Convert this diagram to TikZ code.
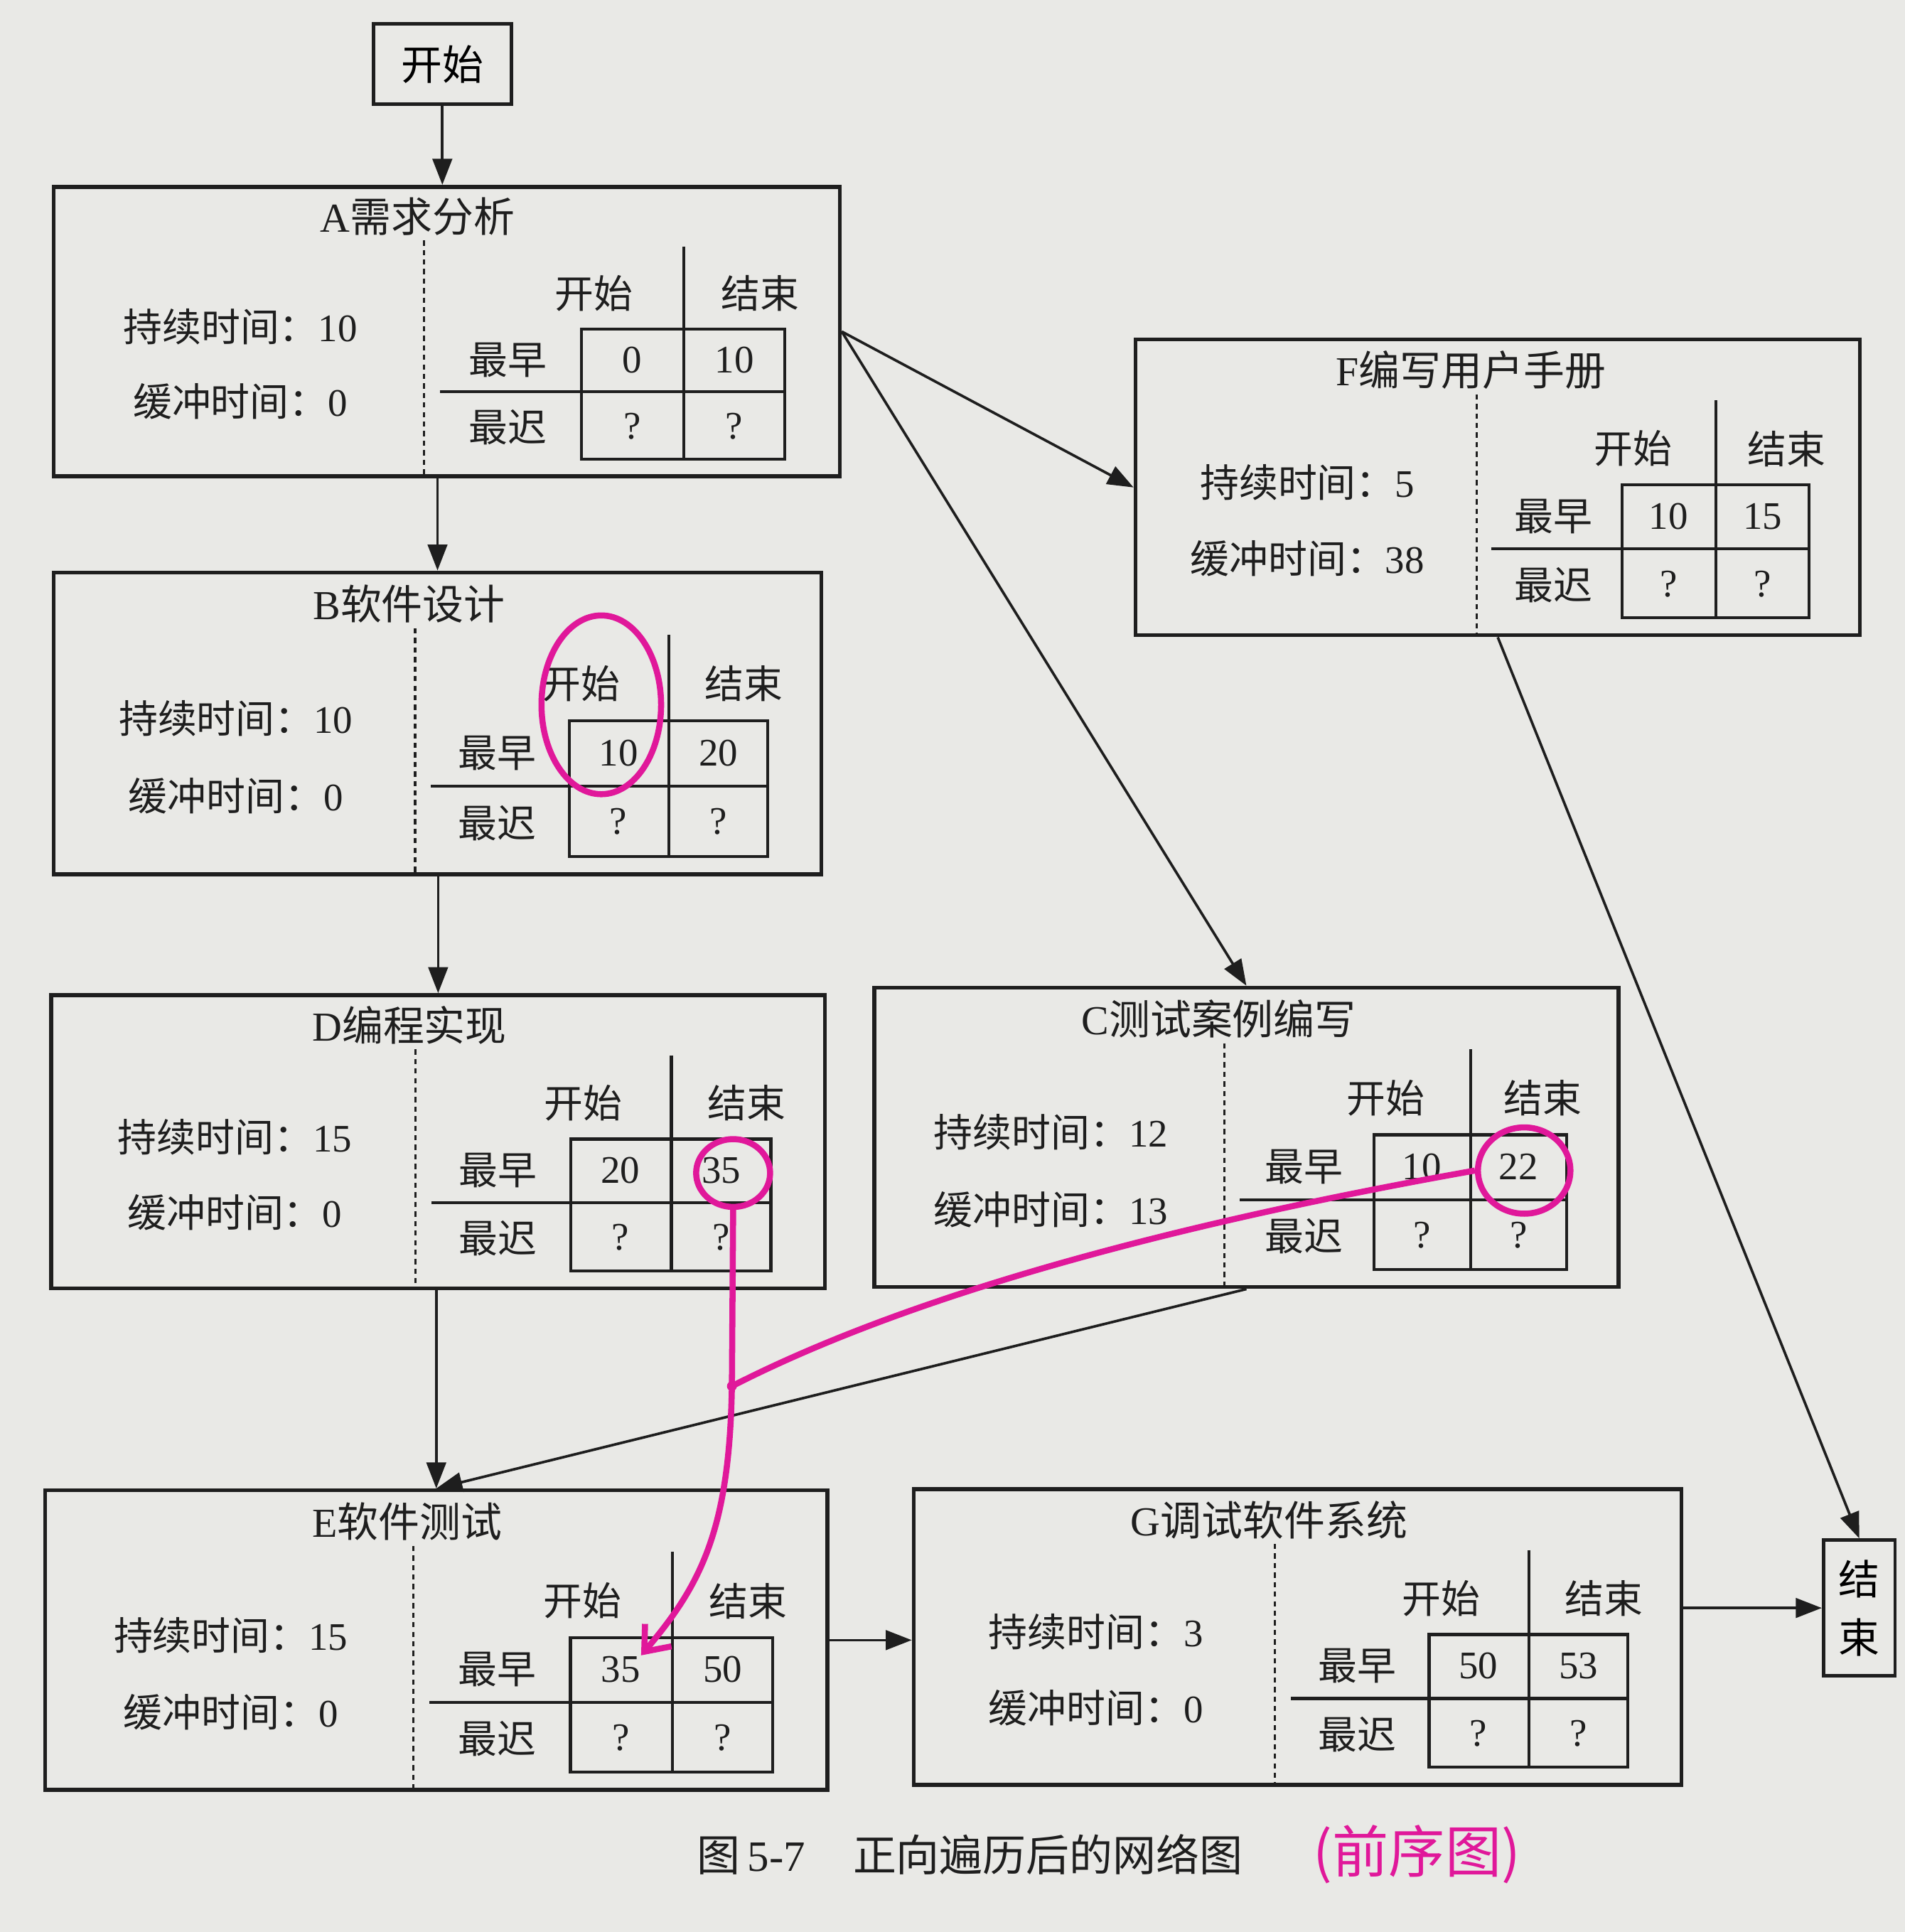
\documentclass[tikz,border=0pt]{standalone}
\usepackage{fontspec}
\setmainfont{Liberation Serif}
\newfontfamily\cjk{Noto Sans CJK SC}
\usetikzlibrary{arrows.meta,shapes.geometric}
\definecolor{paper}{HTML}{E9E9E6}
\definecolor{ink}{HTML}{1E1E1E}
\definecolor{pen}{HTML}{E0189A}
\tikzset{
  actbox/.style={draw=ink, line width=0.9pt, inner sep=0pt},
  termbox/.style={draw=ink, line width=0.8pt, inner sep=0pt, font=\cjk\fontsize{9.5}{11}\selectfont},
  info/.style={inner sep=0pt, text=ink, font=\fontsize{9}{11}\selectfont},
  acttitle/.style={inner sep=0pt, text=ink, font=\fontsize{9.5}{11}\selectfont},
  divider/.style={draw=ink, line width=0.5pt, dash pattern=on 1.2pt off 1pt},
  grid/.style={draw=ink, line width=0.7pt},
  arr/.style={draw=ink, line width=0.6pt, -{Triangle[length=6pt,width=4.5pt]}},
  penline/.style={draw=pen, line width=1.4pt},
  penring/.style={draw=pen, line width=1.4pt, inner sep=0pt},
}
% name, left, top, width, height, title, duration, buffer, earliest start
\newcommand{\activity}[9]{%
  \node[actbox, minimum width=#4*0.01cm, minimum height=#5*0.01cm, anchor=north west] (#1) at (#2,#3) {};
  \begin{scope}[shift={(#2,#3)}, xscale=#4/638, yscale=#5/245]
    \node[acttitle] (#1title) at (297,27) {#1{\cjk #6}};
    \draw[divider] (302,47) -- (302,245);
    \node[info] (#1dur) at (153,120) {{\cjk 持续时间：}#7};
    \node[info] (#1buf) at (153,183) {{\cjk 缓冲时间：}#8};
    \node[info] (#1hs) at (440,92) {\cjk 开始};
    \node[info] (#1hf) at (575,92) {\cjk 结束};
    \node[info] (#1re) at (370,148) {\cjk 最早};
    \node[info] (#1rl) at (370,205) {\cjk 最迟};
    \draw[grid] (513,52) -- (513,232);
    \draw[grid] (315,175) -- (595,175);
    \draw[grid] (430,122) rectangle (595,232);
    \pgfmathtruncatemacro{\eftime}{#9+#7}
    \node[info] (#1ev) at (471,148) {#9};
    \node[info] (#1ef) at (554,148) {\eftime};
    \node[info] (#1lv) at (471,204) {?};
    \node[info] (#1lf) at (554,204) {?};
  \end{scope}
}
\begin{document}
\begin{tikzpicture}[x=0.01cm, y=-0.01cm]
\fill[paper] (0,0) rectangle (1546,1568);
\useasboundingbox (0,0) rectangle (1546,1568);

\node[termbox, minimum width=1.12cm, minimum height=0.65cm] (start) at (359,52) {开始};
\node[termbox, minimum width=0.58cm, minimum height=1.1cm, align=center,
  font=\cjk\fontsize{9.5}{13.5}\selectfont] (finish) at (1509,1305) {结\\束};

\activity{A}{42}{150}{638}{235}{需求分析}{10}{0}{0}
\activity{B}{42}{463}{623}{245}{软件设计}{10}{0}{10}
\activity{D}{40}{806}{628}{238}{编程实现}{15}{0}{20}
\activity{C}{708}{800}{604}{243}{测试案例编写}{12}{13}{10}
\activity{F}{920}{274}{588}{240}{编写用户手册}{5}{38}{10}
\activity{E}{35}{1208}{635}{243}{软件测试}{15}{0}{35}
\activity{G}{740}{1207}{623}{240}{调试软件系统}{3}{0}{50}

\draw[arr] (start.south) -- (start.south |- A.north);
\draw[arr] (A.south -| B.north) -- (B.north);
\draw[arr] (B.south -| D.north) -- (D.north);
\draw[arr] (D.south -| E.north) -- (E.north);
\draw[arr] (A.east) -- (F.west);
\draw[arr] (A.east) -- (C.north);
\draw[arr] (C.south) -- (E.north);
\draw[arr] (F.south) -- (finish.north);
\draw[arr] (E.east) -- (E.east -| G.west);
\draw[arr] (G.east |- finish.west) -- (finish.west);

\node[anchor=west, inner sep=0pt, text=ink, font=\fontsize{10}{12}\selectfont] (caption)
  at (565,1505) {{\cjk 图}\,5-7\hspace{1.1em}{\cjk 正向遍历后的网络图}};

% pen marks
\node[penring, ellipse, minimum width=0.97cm, minimum height=1.45cm] (ring10) at (488,572) {};
\node[penring, ellipse, minimum width=0.6cm, minimum height=0.55cm] (ring35) at (595,952) {};
\node[penring, ellipse, minimum width=0.75cm, minimum height=0.7cm] (ring22) at (1237,950) {};
\coordinate (joint) at (594,1125);
\draw[penline, -{Straight Barb[length=5pt,width=8pt]}] (ring35.south) -- (joint)
  .. controls (592,1240) and (570,1285) .. (Eev.north east);
\draw[penline] (ring22.west) .. controls (1000,985) and (760,1040) .. (joint);
\fill[pen] (joint) circle (4);
\node[text=pen, inner sep=0pt, font=\cjk\fontsize{13}{15}\selectfont] (note) at (1150,1505) {(前序图)};
\end{tikzpicture}
\end{document}
